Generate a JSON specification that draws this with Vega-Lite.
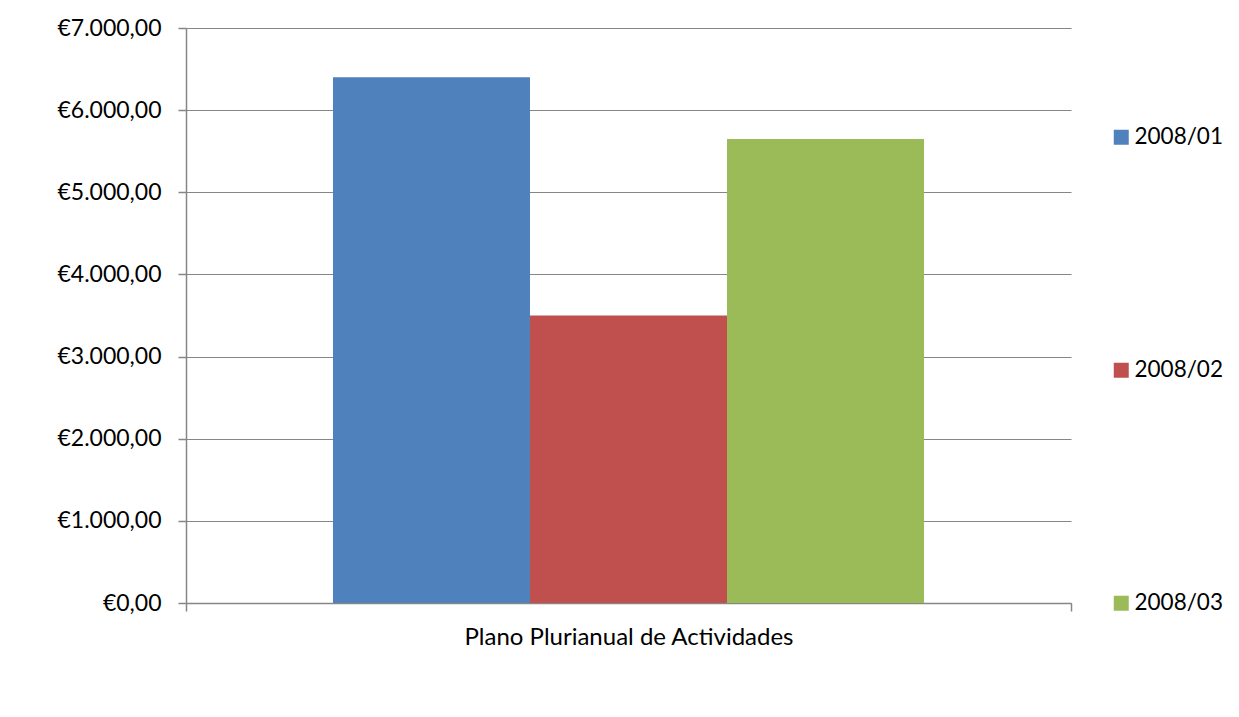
{
  "$schema": "https://vega.github.io/schema/vega-lite/v6.json",
  "autosize": "none",
  "width": 885,
  "height": 575,
  "padding": {"left": 186, "top": 28, "right": 168, "bottom": 114},
  "background": "white",
  "config": {
    "font": "Lato",
    "view": {"stroke": null},
    "locale": {
      "number": {"decimal": ",", "thousands": ".", "grouping": [3], "currency": ["€", ""]}
    }
  },
  "data": {
    "values": [
      {"categoria": "Plano Plurianual de Actividades", "periodo": "2008/01", "valor": 6400},
      {"categoria": "Plano Plurianual de Actividades", "periodo": "2008/02", "valor": 3500},
      {"categoria": "Plano Plurianual de Actividades", "periodo": "2008/03", "valor": 5650}
    ]
  },
  "mark": {"type": "bar"},
  "encoding": {
    "x": {
      "field": "categoria",
      "type": "nominal",
      "scale": {"paddingInner": 0, "paddingOuter": 0},
      "axis": {
        "title": null,
        "labelAngle": 0,
        "labelFontSize": 24,
        "labelLimit": 800,
        "labelColor": "#000000",
        "labelPadding": 14,
        "domainColor": "#868686",
        "domainWidth": 1.5,
        "tickColor": "#868686",
        "tickWidth": 1.5,
        "tickSize": 8,
        "tickBand": "extent"
      }
    },
    "xOffset": {
      "field": "periodo",
      "type": "nominal",
      "scale": {"paddingInner": 0, "paddingOuter": 0.746}
    },
    "y": {
      "field": "valor",
      "type": "quantitative",
      "scale": {"domain": [0, 7000], "nice": false},
      "axis": {
        "title": null,
        "values": [0, 1000, 2000, 3000, 4000, 5000, 6000, 7000],
        "format": "$,.2f",
        "labelFontSize": 23,
        "labelColor": "#000000",
        "labelPadding": 17,
        "labelLimit": 300,
        "grid": true,
        "gridColor": "#868686",
        "gridWidth": 1.2,
        "domainColor": "#868686",
        "domainWidth": 1.5,
        "tickColor": "#868686",
        "tickWidth": 1.5,
        "tickSize": 8
      }
    },
    "color": {
      "field": "periodo",
      "type": "nominal",
      "scale": {"domain": ["2008/01", "2008/02", "2008/03"], "range": ["#4F81BD", "#C0504D", "#9BBB59"]},
      "legend": {
        "title": null,
        "orient": "none",
        "legendX": 924,
        "legendY": 98,
        "symbolType": "square",
        "symbolSize": 225,
        "symbolStrokeWidth": 0,
        "labelFontSize": 22.5,
        "labelColor": "#000000",
        "labelOffset": 2,
        "rowPadding": 210
      }
    }
  }
}
